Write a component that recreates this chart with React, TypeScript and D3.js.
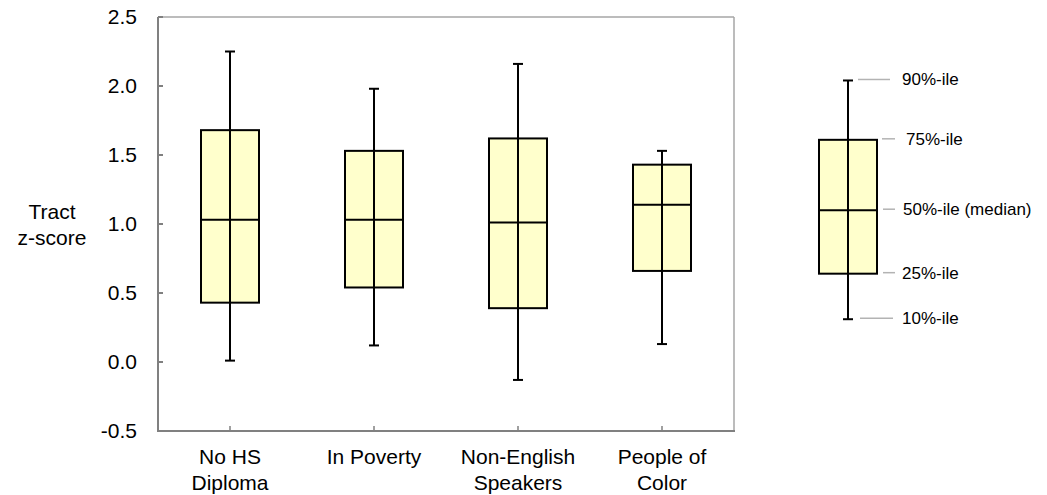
import React from "react";
import * as d3 from "d3";

const categories = ["No HS Diploma", "In Poverty", "Non-English Speakers", "People of Color"];
const categoryLines = [["No HS", "Diploma"], ["In Poverty"], ["Non-English", "Speakers"], ["People of", "Color"]];
const p10 = [0.01, 0.12, -0.13, 0.13];
const p25 = [0.43, 0.54, 0.39, 0.66];
const p50 = [1.03, 1.03, 1.01, 1.14];
const p75 = [1.68, 1.53, 1.62, 1.43];
const p90 = [2.25, 1.98, 2.16, 1.53];
const yTicks = [-0.5, 0, 0.5, 1.0, 1.5, 2.0, 2.5];

const legendValues = [0.31, 0.64, 1.1, 1.61, 2.04]; // 10,25,50,75,90
const legendLabels = ["10%-ile", "25%-ile", "50%-ile (median)", "75%-ile", "90%-ile"];

const W = 1047, H = 495;
const left = 158, right = 734, top = 17, bottom = 431;
const font = "'Liberation Sans', Arial, sans-serif";

export default function App() {
  const y = d3.scaleLinear().domain([-0.5, 2.5]).range([bottom, top]);
  const x = d3.scaleBand<string>().domain(categories).range([left, right]).padding(0);
  const bw = 58;
  const cap = 10;
  const fmt = (t: number) => d3.format(".1f")(t).replace("\u2212", "-");

  const drawBox = (cx: number, lo: number, q1: number, med: number, q3: number, hi: number, key: string) => (
    <g key={key}>
      <line x1={cx} x2={cx} y1={y(hi)} y2={y(lo)} stroke="#000" strokeWidth={2} />
      <line x1={cx - cap / 2} x2={cx + cap / 2} y1={y(hi)} y2={y(hi)} stroke="#000" strokeWidth={2} />
      <line x1={cx - cap / 2} x2={cx + cap / 2} y1={y(lo)} y2={y(lo)} stroke="#000" strokeWidth={2} />
      <rect x={cx - bw / 2} y={y(q3)} width={bw} height={y(q1) - y(q3)} fill="#FFFFCC" stroke="#000" strokeWidth={2} />
      <line x1={cx} x2={cx} y1={y(q3)} y2={y(q1)} stroke="#000" strokeWidth={2} />
      <line x1={cx - bw / 2} x2={cx + bw / 2} y1={y(med)} y2={y(med)} stroke="#000" strokeWidth={2} />
    </g>
  );

  const legendCx = 848;
  const legendLineX = [[860, 893], [883, 895], [883, 895], [882, 895], [858, 890]];
  const legendTextX = [902, 902, 903, 906, 902];

  return (
    <svg width={W} height={H} style={{ position: "absolute", left: 0, top: 0 }} fontFamily={font}>
      <rect x={0} y={0} width={W} height={H} fill="#fff" />
      {/* frame */}
      <line x1={left} x2={right} y1={top} y2={top} stroke="#a6a6a6" strokeWidth={1.5} />
      <line x1={right} x2={right} y1={top} y2={bottom} stroke="#a6a6a6" strokeWidth={1.5} />
      <line x1={left} x2={left} y1={top} y2={bottom} stroke="#808080" strokeWidth={2} />
      <line x1={left - 1} x2={right + 1} y1={bottom} y2={bottom} stroke="#808080" strokeWidth={2} />
      {/* y ticks */}
      {yTicks.map((t) => (
        <g key={t}>
          <line x1={left} x2={left + 5} y1={y(t)} y2={y(t)} stroke="#808080" strokeWidth={2} />
          <text x={137} y={y(t)} dy="0.35em" textAnchor="end" fontSize={21} fill="#000">
            {fmt(t)}
          </text>
        </g>
      ))}
      {/* x ticks and labels */}
      {categories.map((c, i) => {
        const cx = (x(c) as number) + x.bandwidth() / 2;
        return (
          <g key={c}>
            <line x1={cx} x2={cx} y1={bottom} y2={bottom - 5} stroke="#808080" strokeWidth={1.5} />
            {categoryLines[i].map((ln, j) => (
              <text key={j} x={cx} y={464 + j * 26} textAnchor="middle" fontSize={21} fill="#000">
                {ln}
              </text>
            ))}
          </g>
        );
      })}
      {/* y axis title */}
      <text x={52} y={219} textAnchor="middle" fontSize={21} fill="#000">Tract</text>
      <text x={52} y={245} textAnchor="middle" fontSize={21} fill="#000">z-score</text>
      {/* boxes */}
      {categories.map((c, i) =>
        drawBox((x(c) as number) + x.bandwidth() / 2, p10[i], p25[i], p50[i], p75[i], p90[i], c)
      )}
      {/* legend */}
      {drawBox(legendCx, legendValues[0], legendValues[1], legendValues[2], legendValues[3], legendValues[4], "legend")}
      {legendValues.map((v, i) => (
        <g key={legendLabels[i]}>
          <line x1={legendLineX[i][0]} x2={legendLineX[i][1]} y1={y(v) - 1} y2={y(v) - 1} stroke="#b3b3b3" strokeWidth={1.5} />
          <text x={legendTextX[i]} y={y(v) - 1} dy="0.35em" fontSize={17} fill="#000">
            {legendLabels[i]}
          </text>
        </g>
      ))}
    </svg>
  );
}
